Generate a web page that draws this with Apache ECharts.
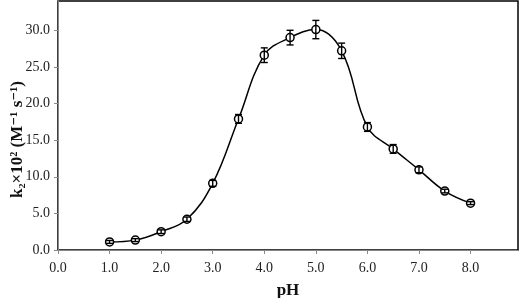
<!DOCTYPE html>
<html>
<head>
<meta charset="utf-8">
<script src="https://cdn.jsdelivr.net/npm/echarts@6/dist/echarts.min.js"></script>
<style>
  html, body { margin: 0; padding: 0; background: #fff; }
  #chart { width: 519px; height: 298px; }
</style>
</head>
<body>
<div id="chart"></div>
<script>
// pH values and rate constants (k2 x 10^2, M^-1 s^-1)
const phValues = [1.0, 1.5, 2.0, 2.5, 3.0, 3.5, 4.0, 4.5, 5.0, 5.5, 6.0, 6.5, 7.0, 7.5, 8.0]
const k2Values = [1.1, 1.35, 2.5, 4.2, 9.1, 17.9, 26.6, 29.0, 30.1, 27.2, 16.8, 13.8, 10.95, 8.05, 6.4]
const k2Errors = [0.2, 0.2, 0.25, 0.3, 0.4, 0.6, 1.0, 1.0, 1.25, 1.05, 0.6, 0.6, 0.4, 0.25, 0.2]

const serif = '"Liberation Serif", "DejaVu Serif", serif'

let chart = echarts.init(document.getElementById('chart'))

let points = phValues.map((x, i) => [x, k2Values[i]])
let bars = phValues.map((x, i) => [x, k2Values[i] - k2Errors[i], k2Values[i] + k2Errors[i]])

let option = {
    animation: false,
    grid: {
        left: 58,
        right: 1,
        top: 1,
        bottom: 48,
        outerBoundsMode: 'none',
        containLabel: false,
        show: true,
        borderColor: '#000',
        borderWidth: 1.5
    },
    xAxis: {
        type: 'value',
        min: 0,
        max: 8.92,
        interval: 1,
        name: 'pH',
        nameLocation: 'middle',
        nameGap: 32,
        nameMoveOverlap: false,
        nameTextStyle: { fontFamily: serif, fontWeight: 'bold', fontSize: 17, color: '#111' },
        axisLine: { lineStyle: { color: '#888', width: 1 } },
        axisTick: { show: true, length: 4, lineStyle: { color: '#888' } },
        axisLabel: {
            fontFamily: serif, fontSize: 14, color: '#222', margin: 11,
            showMaxLabel: false,
            formatter: v => v.toFixed(1)
        },
        splitLine: { show: false }
    },
    yAxis: {
        type: 'value',
        min: 0,
        max: 34,
        interval: 5,
        name: 'k\u2082\u00d710\u00b2 (M\u207b\u00b9 s\u207b\u00b9)',
        nameLocation: 'middle',
        nameGap: 32,
        nameMoveOverlap: false,
        nameTextStyle: { fontFamily: serif, fontWeight: 'bold', fontSize: 17, color: '#111', padding: [0, 28, 0, 0] },
        axisLine: { show: true, lineStyle: { color: '#888', width: 1 } },
        axisTick: { show: true, length: 4, lineStyle: { color: '#888' } },
        axisLabel: {
            fontFamily: serif, fontSize: 14, color: '#222', margin: 8,
            showMaxLabel: false,
            formatter: v => v.toFixed(1)
        },
        splitLine: { show: false }
    },
    series: [
        {
            type: 'line',
            data: points,
            smooth: 0.4,
            symbol: 'circle',
            symbolSize: 8,
            itemStyle: { color: '#fff', borderColor: '#000', borderWidth: 1.5 },
            lineStyle: { color: '#000', width: 1.5 },
            z: 3
        },
        {
            type: 'custom',
            data: bars,
            z: 4,
            renderItem: (params, api) => {
                let lo = api.coord([api.value(0), api.value(1)])
                let hi = api.coord([api.value(0), api.value(2)])
                let cap = 3.5
                let style = { stroke: '#000', lineWidth: 1.4 }
                return {
                    type: 'group',
                    children: [
                        { type: 'line', shape: { x1: lo[0], y1: lo[1], x2: hi[0], y2: hi[1] }, style: style },
                        { type: 'line', shape: { x1: lo[0] - cap, y1: lo[1], x2: lo[0] + cap, y2: lo[1] }, style: style },
                        { type: 'line', shape: { x1: hi[0] - cap, y1: hi[1], x2: hi[0] + cap, y2: hi[1] }, style: style }
                    ]
                }
            }
        }
    ]
}
chart.setOption(option)
</script>
</body>
</html>
